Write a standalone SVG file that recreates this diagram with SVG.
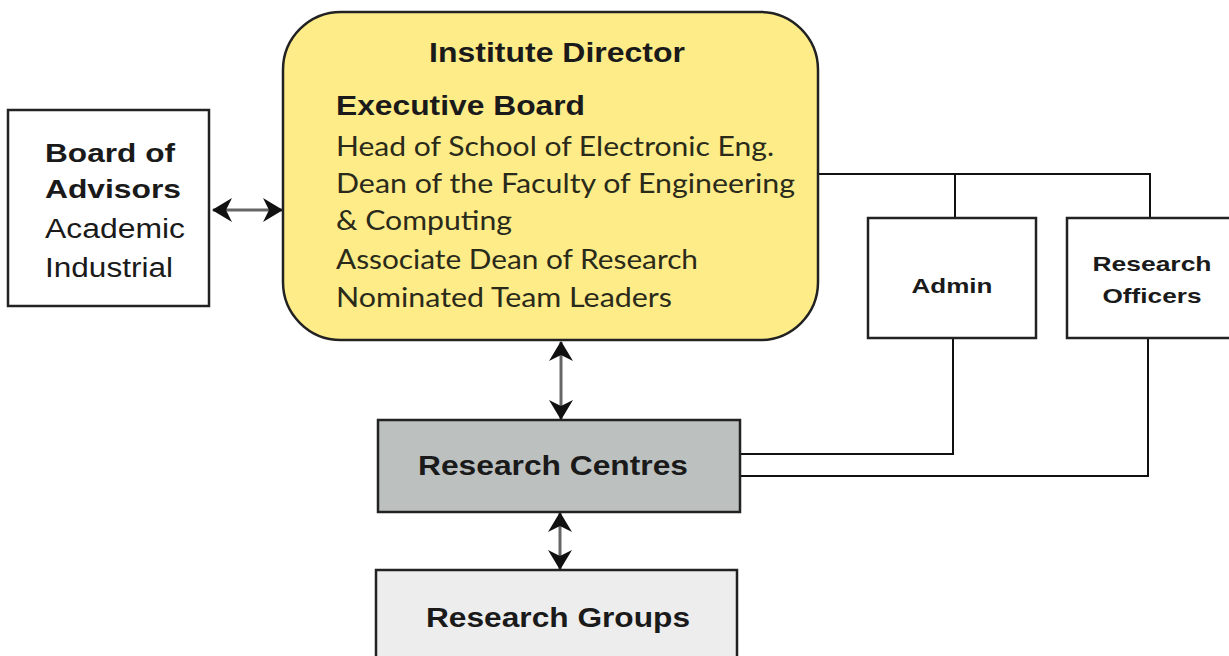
<svg xmlns="http://www.w3.org/2000/svg" width="1229" height="656" viewBox="0 0 1229 656">
<defs>
<marker id="ah" viewBox="0 0 20 24" refX="19" refY="12" markerWidth="20" markerHeight="24" markerUnits="userSpaceOnUse" orient="auto-start-reverse">
<path d="M0,0 L20,12 L0,24 L6,12 Z" fill="#111"/>
</marker>
</defs>
<style>
.box{stroke:#222;stroke-width:2.5}
.b{font-family:"Liberation Sans",Arial,sans-serif;font-weight:bold;fill:#1a1a1a}
.r{font-family:"Liberation Sans",Arial,sans-serif;fill:#1a1a1a}
.h{font-family:Lato,"Open Sans",sans-serif;fill:#2a2a1a}
.conn{fill:none;stroke:#111;stroke-width:2}
.arr{fill:none;stroke:#666;stroke-width:3}
</style>
<rect width="1229" height="656" fill="#fff"/>
<g id="connectors">
<path class="conn" d="M818,174 H1150 V218 M955,174 V218"/>
<path class="conn" d="M953,338 V454 H740"/>
<path class="conn" d="M1148,338 V476 H740" stroke="#333" stroke-width="2.5"/>
<line class="arr" x1="213" y1="210" x2="282" y2="210" marker-start="url(#ah)" marker-end="url(#ah)"/>
<line class="arr" x1="561" y1="342" x2="561" y2="419" marker-start="url(#ah)" marker-end="url(#ah)"/>
<line class="arr" x1="560" y1="513" x2="560" y2="569" marker-start="url(#ah)" marker-end="url(#ah)"/>
</g>
<g id="board">
<rect class="box" x="8" y="110" width="201" height="196" fill="#fff"/>
<text class="b" x="45" y="162" font-size="26" textLength="130" lengthAdjust="spacingAndGlyphs">Board of</text>
<text class="b" x="45" y="198" font-size="26" textLength="136" lengthAdjust="spacingAndGlyphs">Advisors</text>
<text class="r" x="45" y="238" font-size="27" textLength="140" lengthAdjust="spacingAndGlyphs">Academic</text>
<text class="r" x="45" y="277" font-size="27" textLength="128" lengthAdjust="spacingAndGlyphs">Industrial</text>
</g>
<g id="director">
<rect class="box" x="283" y="12" width="535" height="328" rx="58" ry="58" fill="#fdec88"/>
<text class="b" x="557" y="62" font-size="27" text-anchor="middle" textLength="256" lengthAdjust="spacingAndGlyphs">Institute Director</text>
<text class="b" x="336" y="115" font-size="27" textLength="249" lengthAdjust="spacingAndGlyphs">Executive Board</text>
<text class="h" x="336" y="156" font-size="27" textLength="438" lengthAdjust="spacingAndGlyphs">Head of School of Electronic Eng.</text>
<text class="h" x="336" y="193" font-size="27" textLength="459" lengthAdjust="spacingAndGlyphs">Dean of the Faculty of Engineering</text>
<text class="h" x="336" y="230" font-size="27" textLength="176" lengthAdjust="spacingAndGlyphs">&amp; Computing</text>
<text class="h" x="336" y="269" font-size="27" textLength="362" lengthAdjust="spacingAndGlyphs">Associate Dean of Research</text>
<text class="h" x="336" y="307" font-size="27" textLength="336" lengthAdjust="spacingAndGlyphs">Nominated Team Leaders</text>
</g>
<g id="admin">
<rect class="box" x="868" y="218" width="168" height="120" fill="#fff"/>
<text class="b" x="952" y="293" font-size="21" text-anchor="middle" textLength="81" lengthAdjust="spacingAndGlyphs">Admin</text>
</g>
<g id="officers">
<rect class="box" x="1067" y="218" width="170" height="120" fill="#fff"/>
<text class="b" x="1152" y="271" font-size="21" text-anchor="middle" textLength="119" lengthAdjust="spacingAndGlyphs">Research</text>
<text class="b" x="1152" y="303" font-size="21" text-anchor="middle" textLength="99" lengthAdjust="spacingAndGlyphs">Officers</text>
</g>
<g id="centres">
<rect class="box" x="378" y="420" width="362" height="92" fill="#bcc1c0"/>
<text class="b" x="553" y="475" font-size="27" text-anchor="middle" textLength="270" lengthAdjust="spacingAndGlyphs">Research Centres</text>
</g>
<g id="groups">
<rect class="box" x="376" y="570" width="361" height="100" fill="#ededed"/>
<text class="b" x="558" y="627" font-size="27" text-anchor="middle" textLength="264" lengthAdjust="spacingAndGlyphs">Research Groups</text>
</g>
</svg>
